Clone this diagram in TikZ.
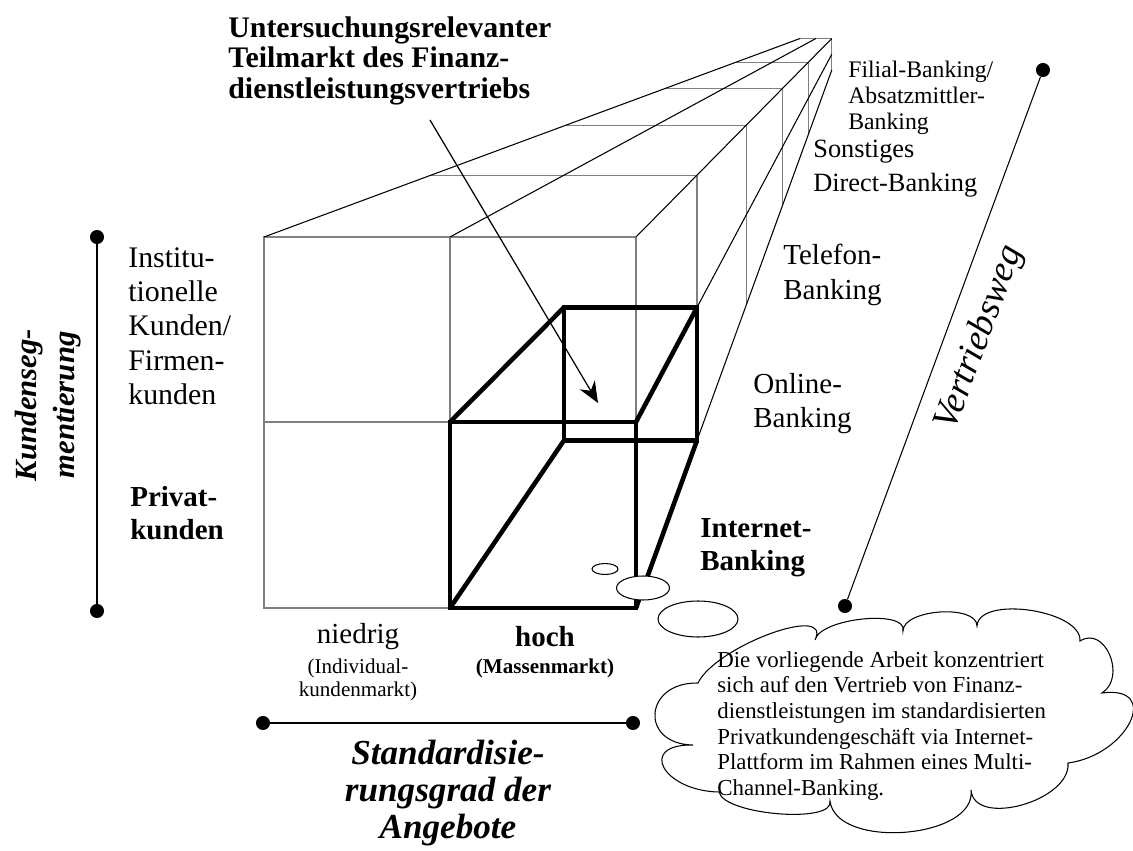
\documentclass[tikz,border=0pt]{standalone}
\usepackage{fontspec}
\setmainfont{Liberation Serif}
\usepackage{amsmath}
\usetikzlibrary{calc,arrows.meta,shapes.geometric}
\tikzset{
  slice/.style={line width=0.6pt, gray},
  edge/.style={line width=0.6pt, black},
  thickbox/.style={line width=2.6pt, black},
  enddot/.style={circle, fill=black, inner sep=0pt, minimum size=8pt},
  lbl/.style={inner sep=0pt, align=left, anchor=north west},
  bubble/.style={draw, fill=white, ellipse, line width=0.6pt, inner sep=0pt},
}
\begin{document}
\begin{tikzpicture}[x=0.02cm, y=-0.02cm]
\useasboundingbox (0,0) rectangle (1133,851);
\coordinate (V) at (850,20);
\coordinate (ftl) at (264,237);
\coordinate (ftm) at (450,237);
\coordinate (ftr) at (636,237);
\coordinate (fml) at (264,422);
\coordinate (fmm) at (450,422);
\coordinate (fmr) at (636,422);
\coordinate (fbl) at (264,608);
\coordinate (fbm) at (450,608);
\coordinate (fbr) at (636,608);
\draw[slice] (ftl) rectangle (fbr);
\draw[slice] (ftm) -- (fbm);
\draw[slice] (fml) -- (fmr);
\foreach \s in {0.715,0.485,0.315,0.195,0.085}
  \draw[slice] ($(V)!\s!(ftl)$) -- ($(V)!\s!(ftr)$) -- ($(V)!\s!(fbr)$);
\foreach \c in {ftl,ftm,ftr,fmr,fbr}
  \draw[edge] (\c) -- ($(V)!0.085!(\c)$);
\coordinate (btl) at ($(V)!0.715!(fmm)$);
\coordinate (btr) at ($(V)!0.715!(fmr)$);
\coordinate (bbl) at ($(V)!0.715!(fbm)$);
\coordinate (bbr) at ($(V)!0.715!(fbr)$);
\draw[thickbox] (fmm) rectangle (fbr);
\draw[thickbox] (btl) rectangle (bbr);
\draw[thickbox] (fmm) -- (btl);
\draw[thickbox] (fmr) -- (btr);
\draw[thickbox] (fbm) -- (bbl);
\draw[thickbox] (fbr) -- (bbr);

\node[lbl, font={\bfseries\fontsize{17}{17.6}\selectfont}] (title) at (228,16) {Untersuchungsrelevanter\\Teilmarkt des Finanz-\\dienstleistungsvertriebs};
\coordinate (aimfrom) at (430,120);
\coordinate (aimto) at (598,403);
\draw[-{Stealth[length=12pt,width=10pt]}, line width=0.7pt] (aimfrom) -- (aimto);

\node[enddot] (kt) at (97,237) {};
\node[enddot] (kb) at (97,611) {};
\draw[edge] (kt) -- (kb);
\node[rotate=90, align=center, inner sep=0pt, font={\bfseries\itshape\fontsize{17.5}{21.5}\selectfont}] (kseg) at (48,405) {Kundenseg-\\mentierung};

\node[enddot] (sl) at (263,723) {};
\node[enddot] (sr) at (633,723) {};
\draw[edge] (sl) -- (sr);

\node[enddot] (vt) at (1043,70) {};
\node[enddot] (vb) at (845,606) {};
\draw[edge] (vb) -- (vt);
\node[rotate=69.7, inner sep=0pt, font={\itshape\fontsize{21}{24}\selectfont}] (vweg) at (980,338) {Vertriebsweg};

\node[lbl, font={\fontsize{17}{19.6}\selectfont}] (inst) at (128,247) {Institu-\\tionelle\\Kunden/\\Firmen-\\kunden};
\node[lbl, font={\bfseries\fontsize{16.5}{19}\selectfont}] (priv) at (130,486) {Privat-\\kunden};

\node[lbl, font={\fontsize{13.5}{14.8}\selectfont}] (filial) at (848,61) {Filial-Banking/\\Absatzmittler-\\Banking};
\node[lbl, font={\fontsize{15}{19}\selectfont}] (sonst) at (813,140) {Sonstiges\\Direct-Banking};
\node[lbl, font={\fontsize{16.5}{19.6}\selectfont}] (tel) at (783,244) {Telefon-\\Banking};
\node[lbl, font={\fontsize{16.5}{19.6}\selectfont}] (online) at (753,373) {Online-\\Banking};
\node[lbl, font={\bfseries\fontsize{16.5}{19}\selectfont}] (inet) at (700,518) {Internet-\\Banking};

\node[inner sep=0pt, font={\fontsize{16.5}{18}\selectfont}] (low) at (358,637) {niedrig};
\node[inner sep=0pt, align=center, font={\fontsize{12}{13}\selectfont}] (lowsub) at (358,680) {(Individual-\\kundenmarkt)};
\node[inner sep=0pt, font={\bfseries\fontsize{16.5}{18}\selectfont}] (high) at (545,637) {hoch};
\node[inner sep=0pt, font={\bfseries\fontsize{12}{13}\selectfont}] (highsub) at (545,668) {(Massenmarkt)};
\node[inner sep=0pt, align=center, font={\bfseries\itshape\fontsize{20}{21}\selectfont}] (stgrad) at (448,793) {Standardisie-\\rungsgrad der\\Angebote};

\node[bubble, minimum width=0.52cm, minimum height=0.22cm] (bub1) at (605,569) {};
\node[bubble, minimum width=1.06cm, minimum height=0.48cm] (bub2) at (643,588) {};
\node[bubble, minimum width=1.6cm, minimum height=0.72cm] (bub3) at (698,619) {};
\draw[edge, fill=white] (698,683)
  .. controls (716,646) and (833,603) .. (815,640)
  .. controls (820,618) and (908,609) .. (903,631)
  .. controls (903,609) and (977,604) .. (977,626)
  .. controls (979,595) and (1082,610) .. (1080,641)
  .. controls (1105,625) and (1127,677) .. (1102,693)
  .. controls (1162,685) and (1128,755) .. (1068,763)
  .. controls (1071,801) and (974,828) .. (971,790)
  .. controls (977,839) and (836,850) .. (830,801)
  .. controls (835,824) and (724,815) .. (719,792)
  .. controls (663,791) and (637,744) .. (693,745)
  .. controls (639,744) and (644,682) .. cycle;
\node[lbl, font={\fontsize{13}{14.6}\selectfont}] (note) at (717,651) {Die vorliegende Arbeit konzentriert\\sich auf den Vertrieb von Finanz-\\dienstleistungen im standardisierten\\Privatkundengeschäft via Internet-\\Plattform im Rahmen eines Multi-\\Channel-Banking.};
\end{tikzpicture}
\end{document}
